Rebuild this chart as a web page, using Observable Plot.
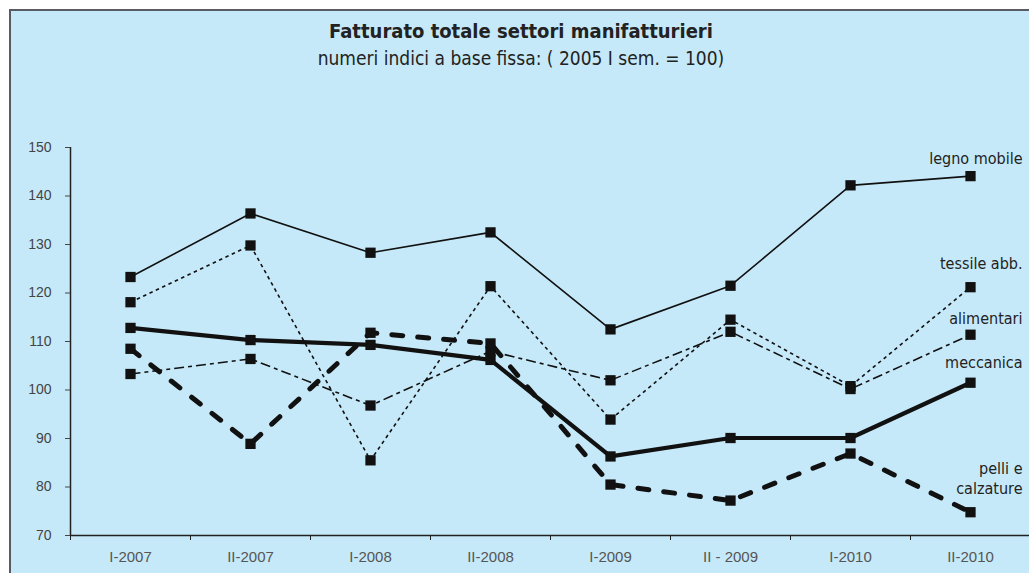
<!DOCTYPE html>
<html>
<head>
<meta charset="utf-8">
<script src="https://cdn.jsdelivr.net/npm/d3@7"></script>
<script src="https://cdn.jsdelivr.net/npm/@observablehq/plot@0.6"></script>
<style>
  html, body { margin: 0; padding: 0; background: #fff; overflow: hidden; width: 1029px; height: 573px; }
  #frame { position: absolute; left: 9px; top: 9px; width: 1040px; height: 600px;
           background: #c6e9f9; border-top: 2px solid #585b61; border-left: 2px solid #585b61; }
  #chart { position: absolute; left: 0; top: 0; width: 1040px; height: 573px; }
  #chart svg { max-width: none !important; }
  .ttl { position: absolute; left: 0; width: 1042px; text-align: center; color: #222;
         font-family: "DejaVu Sans Condensed", "Liberation Sans Narrow", "DejaVu Sans", sans-serif; font-stretch: condensed; }
  #title { top: 19px; font-size: 20px; font-weight: bold; line-height: 24px; }
  #subtitle { top: 46px; font-size: 19px; line-height: 24px; }
</style>
</head>
<body>
<div id="frame"></div>
<div id="chart"></div>
<div class="ttl" id="title">Fatturato totale settori manifatturieri</div>
<div class="ttl" id="subtitle">numeri indici a base fissa: ( 2005 I sem. = 100)</div>
<script>
const categories = ["I-2007", "II-2007", "I-2008", "II-2008", "I-2009", "II - 2009", "I-2010", "II-2010"];
const yTicks = [70, 80, 90, 100, 110, 120, 130, 140, 150];

const legnoMobile = [123.3, 136.4, 128.3, 132.5, 112.5, 121.5, 142.2, 144.1];
const tessileAbb  = [118.1, 129.8, 85.5, 121.4, 93.9, 114.5, 100.8, 121.2];
const alimentari  = [103.3, 106.4, 96.8, 108.0, 102.0, 112.0, 100.2, 111.4];
const meccanica   = [112.8, 110.3, 109.3, 106.2, 86.3, 90.1, 90.1, 101.5];
const pelliCalz   = [108.5, 88.9, 111.8, 109.6, 80.5, 77.2, 86.9, 74.8];

const seriesNames = ["legno mobile", "tessile abb.", "alimentari", "meccanica", "pelli e\ncalzature"];
const seriesValues = [legnoMobile, tessileAbb, alimentari, meccanica, pelliCalz];

// styles (not data)
const styles = [
  {strokeWidth: 1.6, dash: null, cap: "butt", labelDy: -19},
  {strokeWidth: 1.6, dash: "3.5,3.5", cap: "butt", labelDy: -25},
  {strokeWidth: 1.6, dash: "10,4,4,4", cap: "butt", labelDy: -17},
  {strokeWidth: 4.2, dash: null, cap: "round", labelDy: -21},
  {strokeWidth: 5, dash: "11,15", cap: "round", labelDy: -35}
];

const series = seriesNames.map((name, k) => ({
  name,
  rows: seriesValues[k].map((v, i) => ({i, v, name}))
}));

const boundaries = [...categories.map((_, i) => i - 0.5), categories.length - 0.5];
const labelFont = "'DejaVu Sans Condensed', 'Liberation Sans Narrow', 'DejaVu Sans', sans-serif";

const marks = [
  Plot.ruleY([yTicks[0]], {stroke: "#222", strokeWidth: 1.5}),
  Plot.ruleX([boundaries[0]], {stroke: "#222", strokeWidth: 1.5}),
  Plot.axisY({ticks: yTicks, tickSize: 5, tickPadding: 14, fontSize: 14, color: "#444", label: null}),
  Plot.axisX({ticks: boundaries, tickSize: 5, tickFormat: () => "", color: "#222", label: null}),
  Plot.axisX({ticks: d3.range(categories.length), tickSize: 0, tickPadding: 16, tickFormat: i => categories[i], fontSize: 15, color: "#555", label: null})
];

series.slice().reverse().forEach((s) => {
  const k = seriesNames.indexOf(s.name);
  const st = styles[k];
  marks.push(Plot.line(s.rows, {x: "i", y: "v", stroke: "#111", strokeWidth: st.strokeWidth,
    strokeDasharray: st.dash, strokeLinecap: st.cap, strokeLinejoin: "round"}));
});
series.forEach((s) => {
  marks.push(Plot.dot(s.rows, {x: "i", y: "v", symbol: "square", r: 5.8, fill: "#111", stroke: "none"}));
});
series.forEach((s, k) => {
  const last = s.rows[s.rows.length - 1];
  marks.push(Plot.text([last], {x: "i", y: "v", text: "name", textAnchor: "end", dx: 52, dy: styles[k].labelDy,
    fontSize: 16, fontFamily: labelFont, fill: "#222", lineHeight: 1.25}));
});

const chart = Plot.plot({
  width: 1040,
  height: 573,
  marginLeft: 70,
  marginRight: 10,
  marginTop: 147,
  marginBottom: 38,
  style: {background: "transparent", fontFamily: "'Liberation Sans', Arial, sans-serif", overflow: "visible", maxWidth: "none"},
  x: {type: "linear", domain: [boundaries[0], boundaries[boundaries.length - 1]]},
  y: {domain: [yTicks[0], yTicks[yTicks.length - 1]]},
  marks
});
document.getElementById("chart").appendChild(chart);
</script>
</body>
</html>
